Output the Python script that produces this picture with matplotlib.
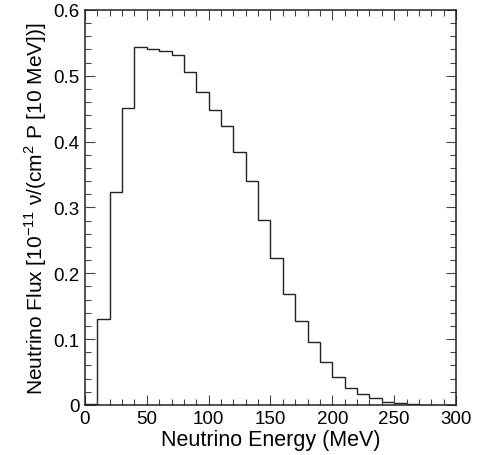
import numpy as np
from matplotlib import pyplot as plt
from matplotlib.ticker import MultipleLocator

plt.rcParams['font.family'] = ['Liberation Sans', 'DejaVu Sans']
plt.rcParams['mathtext.fontset'] = 'custom'
plt.rcParams['mathtext.rm'] = 'Liberation Sans'

# 10 MeV bins from 0 to 300 MeV
bin_edges = np.arange(0, 310, 10)
flux = [0.002, 0.130, 0.324, 0.451, 0.543, 0.541, 0.538, 0.531, 0.506, 0.475,
        0.448, 0.424, 0.384, 0.340, 0.281, 0.223, 0.169, 0.128, 0.095, 0.065,
        0.043, 0.026, 0.016, 0.010, 0.005, 0.003, 0.001, 0.0005, 0.0002, 0.0]

fig = plt.figure(figsize=(4.8, 4.56), dpi=100)
ax = fig.add_axes([0.177, 0.110, 0.773, 0.866])

ax.stairs(flux, bin_edges, color='#222222', linewidth=1.0)

ax.set_xlim(0, 300)
ax.set_ylim(0, 0.6)
ax.xaxis.set_major_locator(MultipleLocator(50))
ax.xaxis.set_minor_locator(MultipleLocator(10))
ax.yaxis.set_minor_locator(MultipleLocator(0.02))
ax.set_yticks([0, 0.1, 0.2, 0.3, 0.4, 0.5, 0.6])
ax.set_yticklabels(['0', '0.1', '0.2', '0.3', '0.4', '0.5', '0.6'])
ax.tick_params(which='both', direction='in', top=True, right=True,
               labelsize=13.5, width=0.8, color='#444444')
ax.tick_params(which='major', length=7, pad=4)
ax.tick_params(which='minor', length=4)
for s in ax.spines.values():
    s.set_linewidth(1.1)
    s.set_color('#222222')

ax.set_xlabel('Neutrino Energy (MeV)', fontsize=15.5, labelpad=1)
ax.set_ylabel(r'Neutrino Flux [10$^{-11}$ ν/(cm$^2$ P [10 MeV])]', fontsize=15, labelpad=3)

plt.savefig('out.png', dpi=100)
